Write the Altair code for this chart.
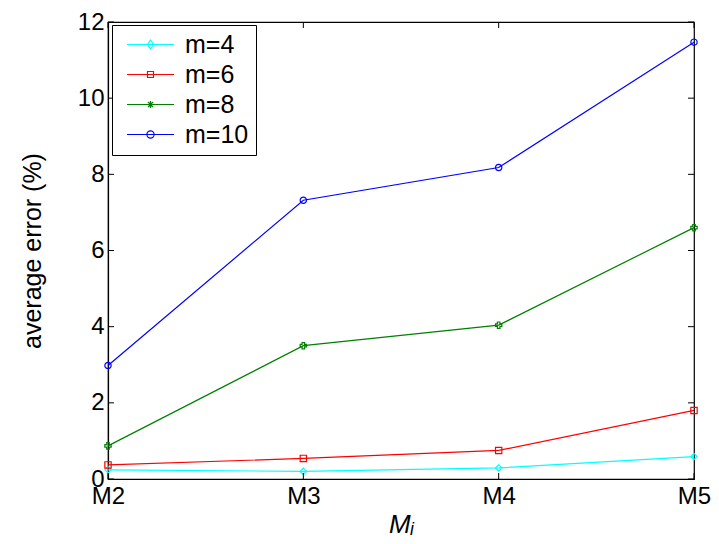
import altair as alt
import pandas as pd

categories = ["M2", "M3", "M4", "M5"]
series_names = ["m=4", "m=6", "m=8", "m=10"]
m4 = [0.24, 0.20, 0.29, 0.59]
m6 = [0.37, 0.54, 0.75, 1.80]
m8 = [0.87, 3.50, 4.04, 6.60]
m10 = [2.98, 7.32, 8.18, 11.47]
y_ticks = [0, 2, 4, 6, 8, 10, 12]

colors = ["#00FFFF", "#FF0000", "#008000", "#0000FF"]
shapes = ["diamond", "square", "cross", "circle"]
legend_paths = [
    "M-2.35,0H2.35M0,-0.45L0.3,0L0,0.45L-0.3,0Z",
    "M-2.35,0H2.35M-0.3,-0.3H0.3V0.3H-0.3Z",
    "M-2.35,0H2.35M-0.36,0H0.36M0,-0.36V0.36M-0.25,-0.25L0.25,0.25M-0.25,0.25L0.25,-0.25",
    "M-2.35,0H2.35M-0.36,0A0.36,0.36 0 1,0 0.36,0A0.36,0.36 0 1,0 -0.36,0",
]

rows = []
for name, vals in zip(series_names, [m4, m6, m8, m10]):
    for c, v in zip(categories, vals):
        rows.append({"Mi": c, "err": v, "series": name})
df = pd.DataFrame(rows)

W, H = 586, 457
FONT = "Liberation Sans"

x_enc = alt.X("Mi:O", sort=categories,
              scale=alt.Scale(type="point", padding=0),
              axis=alt.Axis(title="Mᵢ", labelAngle=0, ticks=False,
                            labelPadding=5, titlePadding=3,
                            titleFontStyle="italic", titleFontWeight="normal",
                            titleFontSize=26))
y_enc = alt.Y("err:Q", scale=alt.Scale(domain=[0, 12], nice=False),
              axis=alt.Axis(title="average error (%)", values=y_ticks,
                            ticks=False, labelPadding=4, titlePadding=32,
                            titleFontWeight="normal", titleFontSize=25))
color_scale = alt.Scale(domain=series_names, range=colors)

legend_def = alt.Legend(title=None, orient="none", legendX=4, legendY=3,
                        symbolSize=400, symbolOpacity=1, symbolOffset=19,
                        symbolStrokeWidth=1.2, symbolFillColor="transparent",
                        labelFontSize=25, labelFont=FONT, labelColor="#000",
                        labelOffset=22, rowPadding=4,
                        padding=7, fillColor="white", strokeColor="black",
                        cornerRadius=0)

lines = alt.Chart(df).mark_line(strokeWidth=1.2).encode(
    x=x_enc, y=y_enc,
    color=alt.Color("series:N", sort=series_names, scale=color_scale, legend=None),
    detail="series:N")

points = alt.Chart(df).mark_point(filled=False, strokeWidth=1.2, size=40, opacity=1).encode(
    x="Mi:O", y="err:Q",
    color=alt.Color("series:N", sort=series_names, scale=color_scale, legend=None),
    shape=alt.Shape("series:N", sort=series_names,
                    scale=alt.Scale(domain=series_names, range=shapes), legend=None))

legend_layer = alt.Chart(df).mark_point(filled=False, opacity=0).encode(
    x="Mi:O", y="err:Q",
    color=alt.Color("series:N", sort=series_names, scale=color_scale, legend=legend_def),
    shape=alt.Shape("series:N", sort=series_names,
                    scale=alt.Scale(domain=series_names, range=legend_paths),
                    legend=legend_def))

ytick_df = pd.DataFrame({"v": y_ticks})
yt_left = alt.Chart(ytick_df).mark_rule(color="black", strokeWidth=1).encode(
    y=alt.Y("v:Q"), x=alt.value(0), x2=alt.value(6))
yt_right = alt.Chart(ytick_df).mark_rule(color="black", strokeWidth=1).encode(
    y=alt.Y("v:Q"), x=alt.value(W - 6), x2=alt.value(W))
xtick_df = pd.DataFrame({"Mi": categories})
xt_bottom = alt.Chart(xtick_df).mark_rule(color="black", strokeWidth=1).encode(
    x=alt.X("Mi:O", sort=categories), y=alt.value(H - 6), y2=alt.value(H))
xt_top = alt.Chart(xtick_df).mark_rule(color="black", strokeWidth=1).encode(
    x=alt.X("Mi:O", sort=categories), y=alt.value(0), y2=alt.value(6))

chart = alt.layer(lines, points, legend_layer, yt_left, yt_right, xt_bottom, xt_top).resolve_scale(
    shape="independent", color="independent"
).properties(
    width=W, height=H,
    background="white",
    autosize=alt.AutoSizeParams(type="none"),
    padding={"left": 100, "top": 14, "right": 17, "bottom": 57},
).configure_view(
    stroke="black", strokeWidth=1.2
).configure_axis(
    labelFont=FONT, titleFont=FONT, labelFontSize=24,
    labelColor="#000", titleColor="#000", domainColor="black", domainWidth=1.2,
    grid=False
)

chart.save("out.html", embed_options={"renderer": "svg", "actions": False})
